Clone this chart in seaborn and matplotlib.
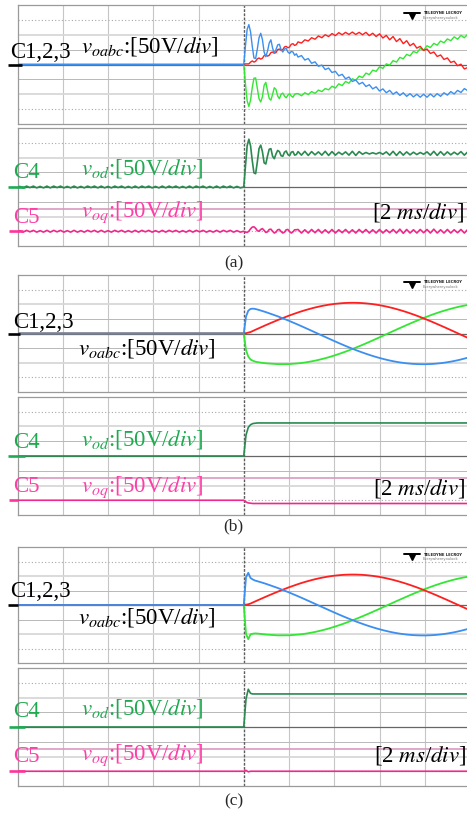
import numpy as np
import matplotlib
matplotlib.use("Agg")
import matplotlib.pyplot as plt
import matplotlib.transforms as mtrans
from matplotlib.lines import Line2D
import seaborn as sns

# ---------------- data (time in ms, trigger at 0; volts) ----------------
t_transient = [0, 0.1, 0.2, 0.3, 0.4, 0.5, 0.6, 0.8, 1.0, 1.5, 2.0]
t_dq = [0, 0.1, 0.2, 0.3, 0.4, 0.5, 0.6, 0.8, 1.0, 1.5, 2.0, 9.9]
t_steady = list(np.round(2.4 + 0.15 * np.arange(51), 3))
t_ring_a = list(np.round(0.075 * np.arange(32), 3))
t_pre_a = list(np.round(-10.2 + 0.15 * np.arange(68), 3))

# steady-state phase voltages (b)/(c)
red_ss = [72.0, 75.8, 79.4, 82.7, 85.9, 88.9, 91.6, 94.0, 96.3, 98.3,
          100.0, 101.5, 102.7, 103.7, 104.4, 104.8, 105.0, 104.9, 104.5, 103.9,
          103.0, 101.8, 100.4, 98.7, 96.8, 94.6, 92.2, 89.5, 86.7, 83.5,
          80.2, 76.7, 73.0, 69.1, 65.0, 60.8, 56.4, 51.8, 47.1, 42.3,
          37.4, 32.4, 27.3, 22.2, 17.0, 11.7, 6.4, 1.1, -4.2, -9.5, -14.7]
blue_ss = [30.1, 25.0, 19.8, 14.6, 9.3, 4.0, -1.3, -6.6, -11.8, -17.1,
           -22.3, -27.5, -32.6, -37.6, -42.5, -47.3, -51.9, -56.5, -60.9, -65.1,
           -69.2, -73.1, -76.8, -80.3, -83.6, -86.7, -89.6, -92.3, -94.7, -96.9,
           -98.8, -100.4, -101.9, -103.0, -103.9, -104.5, -104.9, -105.0, -104.8, -104.4,
           -103.7, -102.7, -101.5, -100.0, -98.2, -96.2, -94.0, -91.5, -88.8, -85.8, -82.7]
green_ss = [-102.1, -100.8, -99.2, -97.3, -95.2, -92.9, -90.3, -87.4, -84.5, -81.2,
            -77.7, -74.0, -70.1, -66.1, -61.9, -57.5, -53.1, -48.4, -43.6, -38.8,
            -33.8, -28.7, -23.6, -18.4, -13.2, -7.9, -2.6, 2.8, 8.0, 13.4,
            18.6, 23.7, 28.9, 33.9, 38.9, 43.7, 48.5, 53.2, 57.7, 62.1,
            66.3, 70.3, 74.2, 77.8, 81.2, 84.5, 87.6, 90.4, 93.0, 95.3, 97.4]

# panel (a): ringing start + rippled steady state
red_a_ring = [0, 2, 2, 2, 8, 12, 8, 11, 19, 22, 18, 21, 30, 32, 28, 31,
              40, 42, 38, 40, 50, 52, 48, 50, 59, 61, 56, 59, 68, 70, 64, 67]
blue_a_ring = [0, 62, 118, 134, 110, 62, 22, 20, 52, 90, 105, 84, 42, 26, 45, 72,
               83, 55, 38, 50, 66, 68, 50, 42, 52, 54, 42, 37, 44, 42, 31, 36]
green_a_ring = [0, -65, -122, -141, -120, -78, -46, -45, -80, -115, -126, -108, -70, -60, -88, -114,
                -120, -100, -78, -84, -106, -115, -100, -96, -106, -112, -103, -98, -106, -110, -100, -98]
vod_a_ring = [0, 70, 140, 162, 140, 90, 48, 45, 85, 130, 142, 120, 82, 78, 105, 128,
              130, 104, 96, 112, 124, 120, 106, 104, 118, 122, 110, 106, 118, 120, 108, 110]
voq_a_ring = [0, -3, -4, 0, 8, 14, 15, 10, 2, 0, 6, 9, 3, -4, -2, 6,
              7, 0, -6, -3, 5, 6, -1, -6, -3, 5, 6, -1, -6, -2, 5, 5]
red_a_ss = [76, 72, 83, 79, 90, 85, 96, 90, 100, 94, 104, 97, 107, 100, 108, 101, 109, 101, 108, 100,
            108, 97, 105, 94, 103, 89, 98, 83, 94, 77, 87, 70, 80, 63, 71, 55, 61, 47, 52, 37,
            42, 27, 32, 17, 22, 7, 11, -4, 1, -15, -10]
blue_a_ss = [25, 30, 15, 20, 4, 9, -6, -2, -17, -12, -27, -23, -38, -33, -48, -42, -57, -52, -66, -60,
             -74, -68, -82, -75, -89, -82, -95, -87, -100, -92, -104, -95, -107, -98, -109, -100, -110, -100, -110, -99,
             -109, -98, -107, -95, -103, -91, -99, -87, -94, -81, -88]
green_a_ss = [-98, -105, -95, -101, -91, -97, -86, -91, -81, -85, -73, -79, -65, -71, -57, -63, -48, -53, -39, -44,
              -29, -34, -19, -23, -8, -13, 2, -2, 13, 8, 24, 19, 34, 29, 44, 39, 54, 48, 63, 57,
              71, 65, 79, 73, 86, 80, 93, 85, 98, 90, 102]
vod_a_ss = [120, 108, 121, 107, 120, 109, 119, 108, 121, 107, 120, 108, 118, 110, 119, 108, 121, 107, 120, 111,
            117, 112, 116, 112, 117, 111, 119, 108, 121, 107, 120, 108, 119, 109, 118, 110, 117, 111, 119, 108,
            121, 107, 120, 108, 119, 109, 118, 110, 120, 108, 119]
voq_a_ss = [6, -6, 5, -6, 6, -5, 6, -6, 5, -6, 6, -6, 5, -5, 6, -6, 5, -6, 6, -5,
            6, -6, 5, -6, 6, -6, 5, -5, 6, -6, 7, -7, 6, -6, 5, -6, 6, -5, 6, -6,
            7, -6, 5, -6, 6, -6, 5, -5, 6, -6, 6]
pre_ripple_a = [3, -3, 2, -3, 3, -2, 3, -3, 2, -3, 3, -3, 3, -2, 3, -3, 2, -3, 3, -3,
                2, -3, 3, -2, 3, -3, 3, -3, 2, -3, 3, -2, 3, -3, 2, -3, 3, -3, 3, -2,
                3, -3, 2, -3, 3, -3, 3, -2, 3, -3, 2, -3, 3, -3, 3, -2, 3, -3, 2, -3,
                3, -3, 3, -2, 3, -3, 2, -3]

# panel (b): smooth first-order start
red_b_tr = [0, 1, 3, 5, 8.6, 12.2, 15.7, 22.6, 29.5, 45.9, 61.1]
blue_b_tr = [0, 58, 78, 84, 85, 84, 82.1, 77.5, 72.5, 58.8, 43.4]
green_b_tr = [0, -57, -79, -89, -93, -96, -97.7, -100.1, -102.0, -104.7, -104.5]
vod_b = [0, 71, 97, 106, 110, 111, 112, 112, 112, 112, 112, 112]
voq_b = [0, -6, -9, -10, -11, -11, -11, -11, -11, -11, -11, -11]

# panel (c): fast start with small overshoot
red_c_tr = [0, 1, 2.5, 5.1, 8.6, 12.2, 15.7, 22.6, 29.5, 45.9, 61.1]
blue_c_tr = [0, 96, 111, 93, 88, 84.3, 82.1, 77.5, 72.5, 58.8, 43.4]
green_c_tr = [0, -100, -118, -101, -99, -98, -98.5, -100.1, -102.0, -104.7, -104.5]
vod_c = [0, 95, 128, 114, 112, 112, 112, 112, 112, 112, 112, 112]
voq_c = [0, 3, -2, 0, 0, 0, 0, 0, 0, 0, 0, 0]

# ---------------- style ----------------
sns.set_style("white")
plt.rcParams["font.family"] = ["Liberation Serif", "DejaVu Serif"]
plt.rcParams["mathtext.fontset"] = "stix"

W, H = 467, 814
fig = plt.figure(figsize=(W / 100, H / 100), dpi=100)
fig.patch.set_facecolor("white")

C_RED, C_BLUE, C_GREEN = "#ff1f1f", "#3b8ff0", "#33e633"
C_VOD, C_VOQ = "#2a8a50", "#f0288c"
C_TXT_G, C_TXT_P = "#1faa50", "#ff3fa8"
LEFT_PX, RIGHT_PX = 17.5, 467.0
PX_PER_MS = 22.625
XMIN = -10.0
XMAX = XMIN + (RIGHT_PX - LEFT_PX) / PX_PER_MS
FS = 16.5


def rect(top, bottom):
    return [LEFT_PX / W, 1 - bottom / H, (RIGHT_PX - LEFT_PX) / W, (bottom - top) / H]


def grid(ax, center, step, lower=False):
    for tv in range(-8, 9, 2):
        if tv == 0:
            continue
        ax.axvline(tv, color="#c6c6c6", lw=0.8, zorder=0)
    ax.axvline(0, color="#5c5c5c", lw=1.0, ls=(0, (2, 1)), zorder=1)
    styles = {1: dict(color="#b8b8b8", lw=0.7, ls="-"),
              2: dict(color="#d8d8d8", lw=1.3, ls="-"),
              3: dict(color="#a8a8a8", lw=0.8, ls=(0, (1, 2)))}
    for d in (1, 2, 3):
        for s in (-1, 1):
            ax.axhline(center + s * d * step, zorder=0, **styles[d])
    ax.axhline(center, color="#666666", lw=0.9, zorder=1)
    if lower:
        ax.axhline(2.5, color="#d89cbd", lw=1.2, zorder=1)
    ax.set_xlim(XMIN, XMAX)
    ax.set_xticks([])
    ax.set_yticks([])
    for name, sp in ax.spines.items():
        sp.set_color("#9a9a9a")
        sp.set_linewidth(0.9)
    ax.spines["right"].set_visible(False)
    ax.set_facecolor("white")


def trace(ax, t, v, color, lw, z=3):
    sns.lineplot(x=t, y=v, ax=ax, color=color, linewidth=lw, estimator=None,
                 sort=False, legend=False, zorder=z)


def ftext(x, y, s, color="black", size=FS, **kw):
    fig.text(x / W, 1 - y / H, s, color=color, fontsize=size, ha="left", va="baseline", **kw)


def marker(ax, x0, x1, yval, color):
    tr = mtrans.blended_transform_factory(fig.transFigure, ax.transData)
    fig.add_artist(Line2D([x0 / W, x1 / W], [yval, yval], transform=tr, color=color,
                          lw=1.9, solid_capstyle="butt", clip_on=False))


def logo(y):
    fig.add_artist(Line2D([404 / W, 420 / W], [1 - (y - 2.5) / H] * 2, transform=fig.transFigure,
                          color="black", lw=1.4))
    fig.add_artist(Line2D([412 / W], [1 - (y + 0.5) / H], transform=fig.transFigure,
                          marker="v", ms=5, color="black", lw=0))
    fig.text(423 / W, 1 - (y - 0.5) / H, "TELEDYNE LECROY", fontsize=2.7, family="DejaVu Sans",
             fontweight="bold", ha="left", va="baseline", color="#222222")
    fig.text(423 / W, 1 - (y + 4) / H, "Everywhereyoulook", fontsize=2.6, family="DejaVu Sans",
             ha="left", va="baseline", color="#777777")


panels = [
    dict(top=(5, 124), bot=(128, 246), lw=1.0,
         red=([-10.2] + t_ring_a + t_steady, [0] + red_a_ring + red_a_ss),
         blue=([-10.2] + t_ring_a + t_steady, [0] + blue_a_ring + blue_a_ss),
         green=([-10.2] + t_ring_a + t_steady, [0] + green_a_ring + green_a_ss),
         vod=(t_pre_a + t_ring_a + t_steady, pre_ripple_a + vod_a_ring + vod_a_ss),
         voq=(t_pre_a + t_ring_a + t_steady, pre_ripple_a + voq_a_ring + voq_a_ss),
         marks=((8, 22), (8, 25), (9, 23))),
    dict(top=(275, 392), bot=(397, 515), lw=1.3,
         red=([-10.2] + t_transient + t_steady, [0] + red_b_tr + red_ss),
         blue=([-10.2] + t_transient + t_steady, [0] + blue_b_tr + blue_ss),
         green=([-10.2] + t_transient + t_steady, [0] + green_b_tr + green_ss),
         vod=([-10.2] + t_dq, [0] + vod_b),
         voq=([-10.2] + t_dq, [0] + voq_b),
         marks=((8, 20), (8, 25), (9, 18))),
    dict(top=(547, 663), bot=(668, 786), lw=1.3,
         red=([-10.2] + t_transient + t_steady, [0] + red_c_tr + red_ss),
         blue=([-10.2] + t_transient + t_steady, [0] + blue_c_tr + blue_ss),
         green=([-10.2] + t_transient + t_steady, [0] + green_c_tr + green_ss),
         vod=([-10.2] + t_dq, [0] + vod_c),
         voq=([-10.2] + t_dq, [0] + voq_c),
         marks=((8, 18), (9, 25), (9, 25))),
]

for p in panels:
    axu = fig.add_axes(rect(*p["top"]))
    grid(axu, 0, 50)
    axu.set_ylim(-200, 200)
    trace(axu, *p["green"], C_GREEN, p["lw"])
    trace(axu, *p["red"], C_RED, p["lw"])
    trace(axu, *p["blue"], C_BLUE, p["lw"])

    axl = fig.add_axes(rect(*p["bot"]))
    grid(axl, 4, 1, lower=True)
    axl.set_ylim(0, 8)
    tv, vv = p["vod"]
    trace(axl, tv, [4 + v / 50 for v in vv], C_VOD, 1.2)
    tq, vq = p["voq"]
    trace(axl, tq, [1 + v / 50 for v in vq], C_VOQ, 1.2)

    m = p["marks"]
    marker(axu, m[0][0], m[0][1], 0, "black")
    marker(axl, m[1][0], m[1][1], 4, "#1faa55")
    marker(axl, m[2][0], m[2][1], 1, "#ff3399")

# ---------------- texts ----------------
lab_abc = r"$v_{oabc}$:[50V/$div$]"
lab_od = r"$v_{od}$:[50V/$div$]"
lab_oq = r"$v_{oq}$:[50V/$div$]"
lab_t = r"[2 $ms$/$div$]"

# (a)
ftext(10, 58.5, "C1,2,3")
ftext(81, 52.5, lab_abc)
ftext(13, 178, "C4", C_TXT_G)
ftext(81, 175, lab_od, C_TXT_G)
ftext(13, 223, "C5", C_TXT_P)
ftext(81, 216.7, lab_oq, C_TXT_P)
ftext(372, 219, lab_t)
fig.text(233.5 / W, 1 - 263 / H, "(a)", fontsize=12.5, ha="center", va="center")
logo(15)
# (b)
ftext(13, 328.3, "C1,2,3")
ftext(77.7, 354.3, lab_abc)
ftext(13.3, 448.3, "C4", C_TXT_G)
ftext(81, 445.7, lab_od, C_TXT_G)
ftext(13.3, 492.3, "C5", C_TXT_P)
ftext(81, 491.7, lab_oq, C_TXT_P)
ftext(373, 494.3, lab_t)
fig.text(233.5 / W, 1 - 526.7 / H, "(b)", fontsize=12.5, ha="center", va="center")
logo(284)
# (c)
ftext(10, 597.3, "C1,2,3")
ftext(77.7, 623.3, lab_abc)
ftext(13.3, 716.7, "C4", C_TXT_G)
ftext(81, 715, lab_od, C_TXT_G)
ftext(13.3, 761.7, "C5", C_TXT_P)
ftext(81, 760, lab_oq, C_TXT_P)
ftext(374, 761.7, lab_t)
fig.text(233.5 / W, 1 - 801.7 / H, "(c)", fontsize=12.5, ha="center", va="center")
logo(556)

fig.savefig("out.png", dpi=100, facecolor="white")
